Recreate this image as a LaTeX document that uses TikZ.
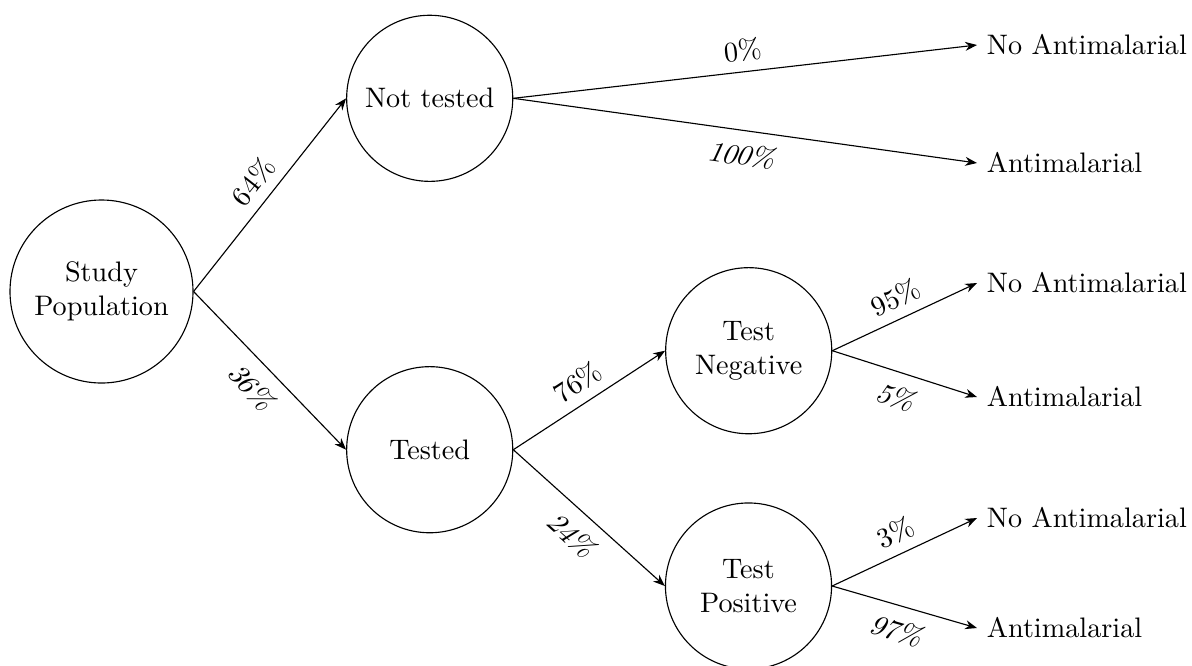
\documentclass[tikz,border=0pt]{standalone}
\usetikzlibrary{arrows.meta}
\begin{document}
\begin{tikzpicture}[x=0.3546pt,y=-0.3546pt,
  state/.style={circle,draw,inner sep=0pt,minimum size=58.9pt,align=center},
  root/.style={circle,draw,inner sep=0pt,minimum size=64.9pt,align=center},
  leaf/.style={anchor=west},
  conn/.style={-{Stealth[length=4.2pt,width=3.2pt]},line width=0.4pt},
  up/.style={above,sloped},
  dn/.style={below,sloped,xslant=0.3,inner sep=4.5pt}]
\useasboundingbox (0,0) rectangle (1192,665);
\node[root] (sp) at (101.5,291.5) {Study\\Population};
\node[state] (nt) at (429.7,98.3) {Not tested};
\node[state] (te) at (429.7,449.7) {Tested};
\node[state] (tn) at (748.7,350.7) {Test\\Negative};
\node[state] (tp) at (748.5,586) {Test\\Positive};
\node[leaf] (l1) at (977,45) {No Antimalarial};
\node[leaf] (l2) at (977,163) {Antimalarial};
\node[leaf] (l3) at (977,283) {No Antimalarial};
\node[leaf] (l4) at (977,397) {Antimalarial};
\node[leaf] (l5) at (977,518) {No Antimalarial};
\node[leaf] (l6) at (977,628) {Antimalarial};
\draw[conn] (sp.east) -- node[up] {64\%} (nt.west);
\draw[conn] (sp.east) -- node[dn,pos=0.54] {36\%} (te.west);
\draw[conn] (nt.east) -- node[up] {0\%} (l1.west);
\draw[conn] (nt.east) -- node[dn,pos=0.52] {100\%} (l2.west);
\draw[conn] (te.east) -- node[up] {76\%} (tn.west);
\draw[conn] (te.east) -- node[dn,pos=0.54] {24\%} (tp.west);
\draw[conn] (tn.east) -- node[up] {95\%} (l3.west);
\draw[conn] (tn.east) -- node[dn,pos=0.555] {5\%} (l4.west);
\draw[conn] (tp.east) -- node[up] {3\%} (l5.west);
\draw[conn] (tp.east) -- node[dn,pos=0.555] {97\%} (l6.west);
\end{tikzpicture}
\end{document}
